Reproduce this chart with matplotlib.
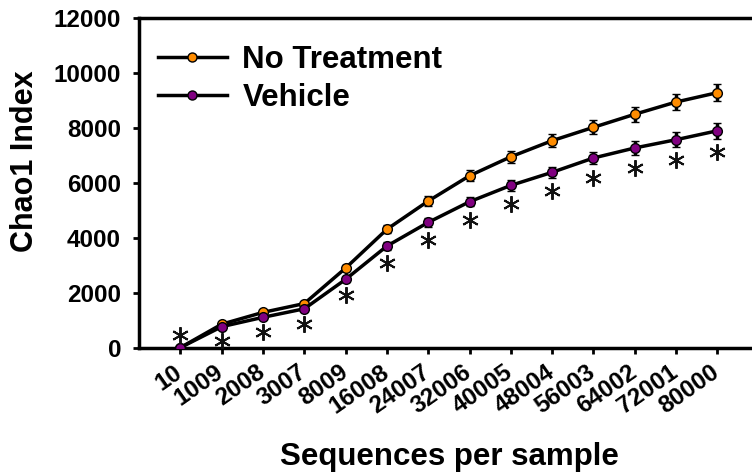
import matplotlib.pyplot as plt
from matplotlib.lines import Line2D
from matplotlib.transforms import offset_copy, ScaledTranslation

plt.rcParams['font.family'] = ['Liberation Sans', 'DejaVu Sans']

# rarefaction depths (sequences per sample)
depths = ['10', '1009', '2008', '3007', '8009', '16008', '24007', '32006',
          '40005', '48004', '56003', '64002', '72001', '80000']

# mean Chao1 and SEM per group
no_treatment = [20, 870, 1300, 1620, 2910, 4320, 5345, 6265, 6955, 7540, 8025, 8500, 8945, 9285]
no_treatment_err = [10, 50, 60, 70, 110, 150, 180, 200, 220, 240, 260, 280, 290, 310]
vehicle = [20, 780, 1120, 1430, 2500, 3710, 4570, 5320, 5915, 6390, 6910, 7275, 7575, 7900]
vehicle_err = [10, 50, 60, 70, 100, 130, 150, 170, 190, 210, 230, 250, 270, 290]

# depths where the groups differ significantly
significant = list(range(len(depths)))

groups = ['No Treatment', 'Vehicle']
colors = ['#FF8C00', '#800080']

x = list(range(len(depths)))

fig = plt.figure(figsize=(7.52, 4.73), dpi=100)
ax = fig.add_axes([0.185, 0.264, 0.815, 0.698])

line_kw = dict(color='black', lw=2.5, marker='o', markersize=7, markeredgecolor='black',
               markeredgewidth=1.0, ecolor='black', elinewidth=2.5, capsize=3, capthick=2.5)
ax.errorbar(x, no_treatment, yerr=no_treatment_err, markerfacecolor=colors[0], zorder=3, **line_kw)
ax.errorbar(x, vehicle, yerr=vehicle_err, markerfacecolor=colors[1], zorder=4, **line_kw)

# significance stars: above the first point, below the vehicle error bar elsewhere
star_kw = dict(ls='none', marker=(6, 2, 0), markersize=12, markeredgewidth=1.4,
               color='#111111', zorder=5)
first = [i for i in significant if i == 0]
rest = [i for i in significant if i != 0]
ax.plot([x[i] for i in first], [vehicle[i] + vehicle_err[i] for i in first],
        transform=offset_copy(ax.transData, fig, y=9, units='points'), **star_kw)
ax.plot([x[i] for i in rest], [vehicle[i] - vehicle_err[i] for i in rest],
        transform=offset_copy(ax.transData, fig, y=-9.5, units='points'), **star_kw)

ax.set_xlim(-1, 13.84)
ax.set_ylim(0, 12000)
ax.set_yticks(range(0, 12001, 2000))
ax.set_xticks(x)
ax.set_xticklabels(depths, rotation=35, ha='right', rotation_mode='anchor')

for side in ('left', 'bottom', 'top'):
    ax.spines[side].set_linewidth(2.5)
ax.spines['right'].set_visible(False)

ax.tick_params(axis='both', direction='out', width=2, length=4, labelsize=17.5)
ax.tick_params(axis='y', pad=9)
ax.tick_params(axis='x', pad=5)
nudge = ScaledTranslation(-5 / 72, 0, fig.dpi_scale_trans)
for lbl in ax.get_xticklabels():
    lbl.set_fontweight('bold')
    lbl.set_transform(lbl.get_transform() + nudge)
for lbl in ax.get_yticklabels():
    lbl.set_fontweight('bold')

ax.set_ylabel('Chao1 Index', fontsize=22, fontweight='bold')
ax.yaxis.set_label_coords(-0.162, 0.567)
ax.set_xlabel('Sequences per sample', fontsize=22.5, fontweight='bold')
ax.xaxis.set_label_coords(0.506, -0.285)

handles = [Line2D([], [], color='black', lw=2.5, marker='o', markersize=6.5,
                  markerfacecolor=c, markeredgecolor='black') for c in colors]
ax.legend(handles, groups, loc='upper left', frameon=False,
          prop={'weight': 'bold', 'size': 22.5}, handlelength=2.2, handletextpad=0.5,
          borderaxespad=0.3, labelspacing=0.25, bbox_to_anchor=(-0.005, 0.985))

fig.savefig('out.png', dpi=100)
